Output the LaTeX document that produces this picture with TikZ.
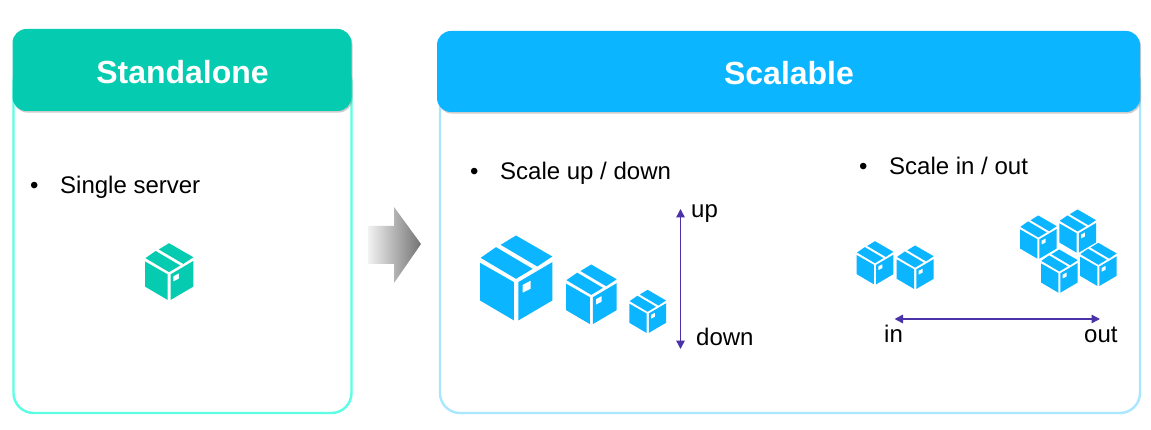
\documentclass[tikz,border=0pt]{standalone}
\usepackage{fontspec}
\setmainfont{Liberation Sans}
\usetikzlibrary{arrows.meta,shadows}
\definecolor{teal1}{HTML}{05CCB0}
\definecolor{tealline}{HTML}{5CFFE3}
\definecolor{blue1}{HTML}{0BB5FF}
\definecolor{blueline}{HTML}{A9E7FF}
\definecolor{violet1}{HTML}{4B32A8}
\tikzset{
  panel/.style={draw,line width=2.4pt,rounded corners=20pt,inner sep=0pt,fill=white},
  header/.style={rounded corners=14pt,inner sep=0pt,text=white,
    font=\fontsize{32}{32}\selectfont\bfseries,
    drop shadow={opacity=.4,shadow xshift=1pt,shadow yshift=-1.6pt}},
  label/.style={anchor=base west,inner sep=0pt,font=\fontsize{24}{24}\selectfont},
  dbl/.style={draw=violet1,line width=1.5pt,{Triangle[length=8.5pt,width=8.5pt]}-{Triangle[length=8.5pt,width=8.5pt]}},
}
\newcommand{\carton}[4]{%
  \begin{scope}[shift={(#1,#2)},scale=#3/217]
    \fill[#4] (108,0)--(217,63)--(172,93)--(62,28)--cycle;
    \fill[#4] (48,35)--(158,100)--(108,130)--(2,67)--cycle;
    \fill[#4] (0,82)--(102,140)--(102,255)--(0,195)--cycle;
    \fill[#4,even odd rule] (115,140)--(217,80)--(217,195)--(115,255)--cycle
       (128,148)--(152,135)--(152,160)--(128,172)--cycle;
  \end{scope}}
\newcommand{\bulleted}[1]{\makebox[30pt][l]{•}#1}
\begin{document}
\begin{tikzpicture}[x=1pt,y=-1pt]
\useasboundingbox (0,0) rectangle (1151,430);
\fill[white] (0,0) rectangle (1151,430);
% left panel
\node[panel,draw=tealline,minimum width=338pt,minimum height=350pt] (leftpanel) at (182.5,238) {};
\node[header,fill=teal1,minimum width=339pt,minimum height=82pt] (stand) at (182,70) {};
\node[inner sep=0pt,text=white,font=\fontsize{32}{32}\selectfont\bfseries] (standt) at (182.5,72) {Standalone};
% right panel
\node[panel,draw=blueline,minimum width=700pt,minimum height=350pt] (rightpanel) at (790,238) {};
\node[header,fill=blue1,minimum width=703pt,minimum height=81pt] (scal) at (788.5,71.5) {};
\node[inner sep=0pt,text=white,font=\fontsize{32}{32}\selectfont\bfseries] (scalt) at (789,73) {Scalable};
% texts
\node[label] (single) at (30,194) {\bulleted{Single server}};
\node[label] (scaleud) at (470,180) {\bulleted{Scale up / down}};
\node[label] (scaleio) at (859,175) {\bulleted{Scale in / out}};
\node[label] (up) at (691,218) {up};
\node[label] (down) at (696,345) {down};
\node[label] (in) at (884,342) {in};
\node[label] (out) at (1084,342) {out};
% middle arrow
\shade[left color=white!90!gray,right color=black!55] (368,226)--(394,226)--(394,207)--(421,244)--(394,283)--(394,264)--(368,264)--cycle;
% cartons
\carton{145}{243.2}{48.3}{teal1}
\carton{480}{235.5}{72.3}{blue1}
\carton{566}{264.5}{50.7}{blue1}
\carton{629.3}{289.8}{36.7}{blue1}
\carton{856.7}{241.2}{36.7}{blue1}
\carton{896.7}{245.5}{37}{blue1}
\carton{1020}{215.5}{36.7}{blue1}
\carton{1059.3}{209.5}{36.7}{blue1}
\carton{1080}{242.8}{36.7}{blue1}
\carton{1041}{249.5}{36.7}{blue1}
% scale arrows
\coordinate (vtop) at (680.5,209);
\coordinate (vbot) at (680.5,349);
\coordinate (hleft) at (894.5,319);
\coordinate (hright) at (1100,319);
\draw[dbl] (vtop) -- (vbot);
\draw[dbl] (hleft) -- (hright);
\end{tikzpicture}
\end{document}
